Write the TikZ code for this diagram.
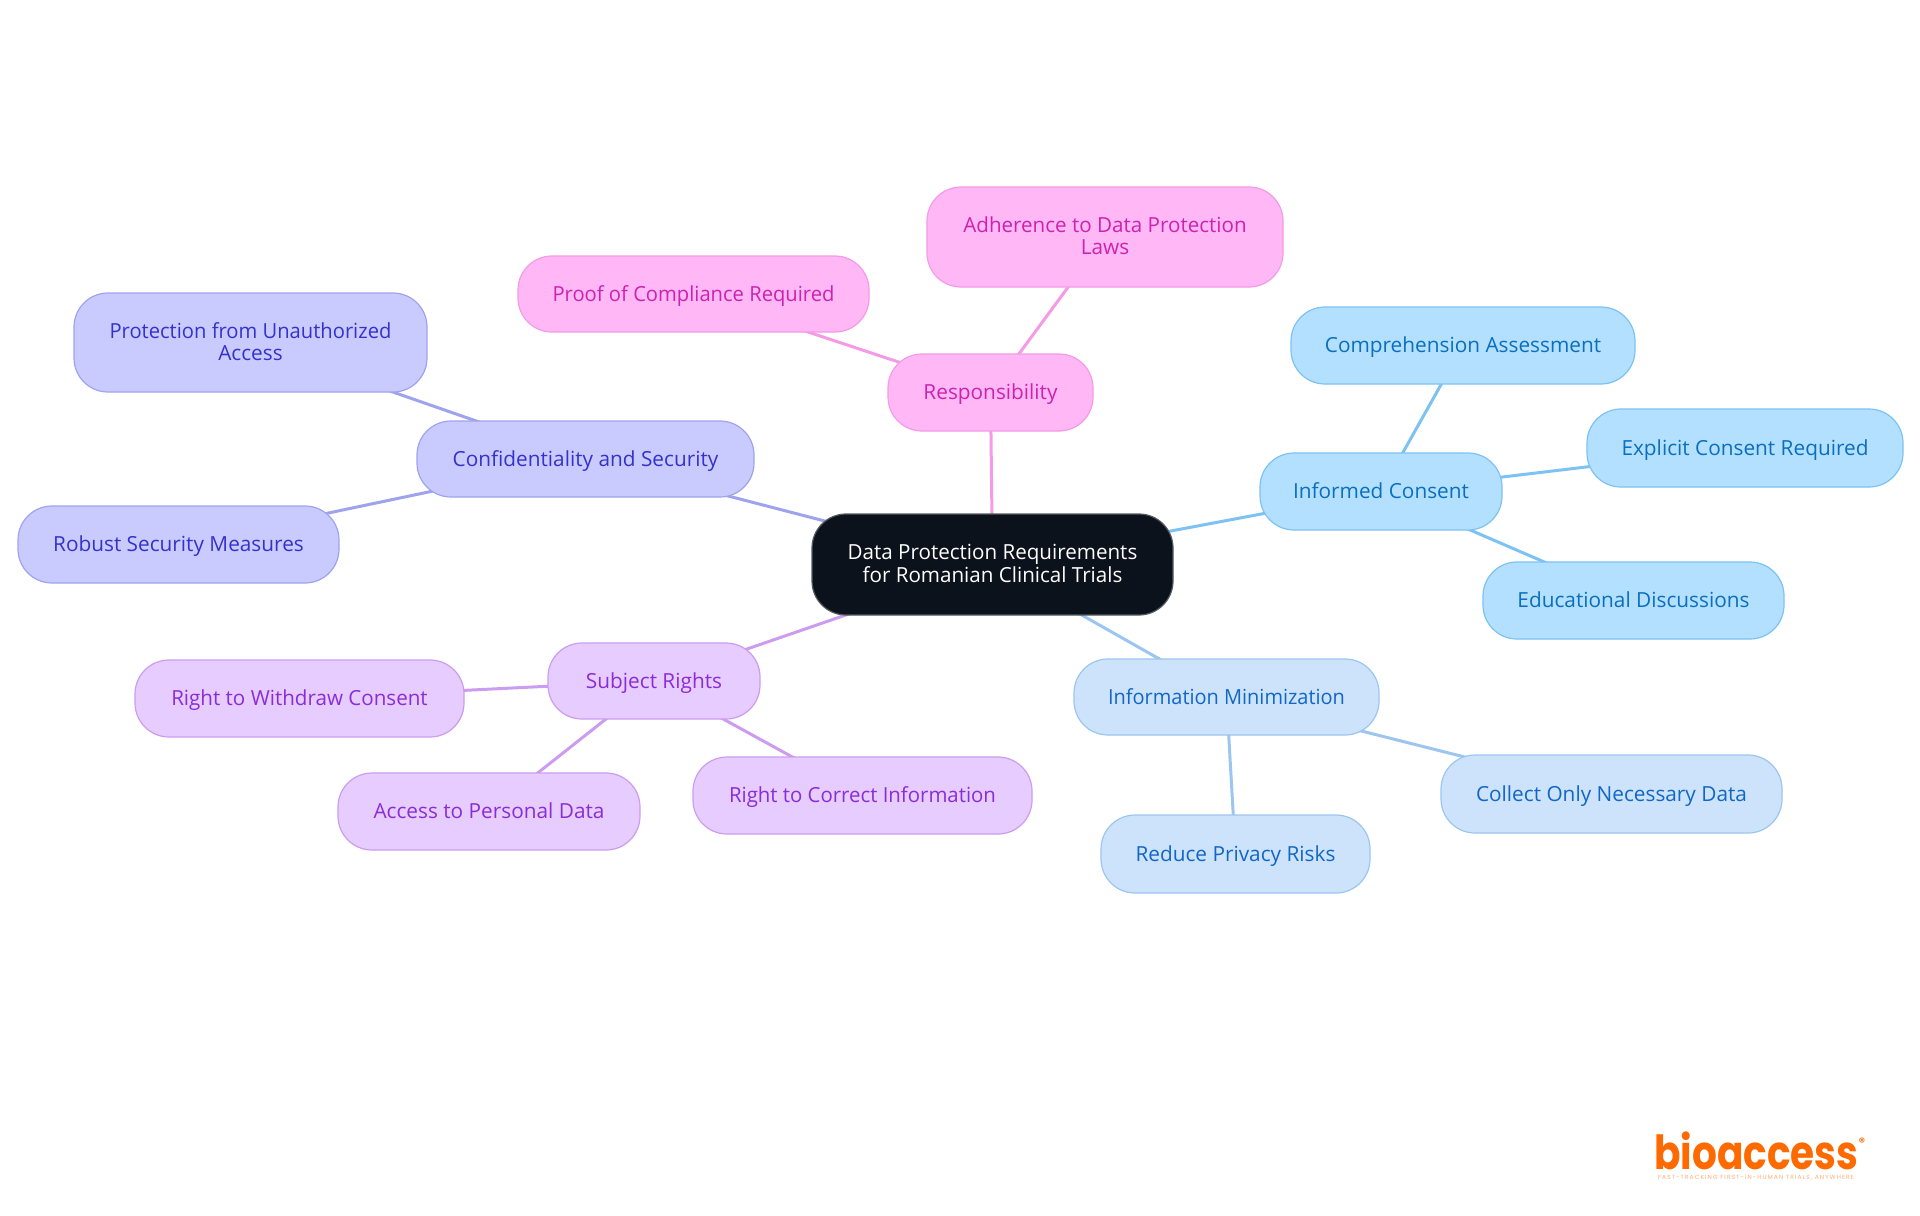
\documentclass[tikz,border=0pt]{standalone}
\usepackage{graphicx}
\usepackage{fontspec}
\setmainfont{Open Sans}
\newfontfamily\logofont{Poppins}
\newfontfamily\tagfont[LetterSpace=18]{Poppins}
\usetikzlibrary{backgrounds}
\definecolor{blueF}{HTML}{B3E0FF}\definecolor{blueD}{HTML}{7CC2F2}\definecolor{blueT}{HTML}{0A6FBF}
\definecolor{skyF}{HTML}{CCE3FB}\definecolor{skyD}{HTML}{9CC5F0}\definecolor{skyT}{HTML}{1267C6}
\definecolor{indF}{HTML}{C9CBFF}\definecolor{indD}{HTML}{9FA3EE}\definecolor{indT}{HTML}{3532CC}
\definecolor{purF}{HTML}{E6CCFF}\definecolor{purD}{HTML}{CC9CF0}\definecolor{purT}{HTML}{8A2DD8}
\definecolor{pinF}{HTML}{FFB8F5}\definecolor{pinD}{HTML}{F59AE6}\definecolor{pinT}{HTML}{CC22B0}
\definecolor{rootF}{HTML}{0C121B}\definecolor{rootD}{HTML}{555A62}
\definecolor{logoC}{HTML}{FF6A00}
\newcommand{\lastfix}{\rule[-1.2pt]{0pt}{1.2pt}}
\newcommand{\narrow}[2]{\scalebox{#1}[1]{#2}}
\tikzset{
  box/.style={rectangle,rounded corners=17pt,line width=0.6pt,inner sep=0pt,align=center,
    font=\fontsize{10.4}{11.2}\selectfont},
  one/.style={text height=9.5pt,text depth=2.5pt},
  bluebox/.style={box,fill=blueF,draw=blueD,text=blueT},
  skybox/.style={box,fill=skyF,draw=skyD,text=skyT},
  indbox/.style={box,fill=indF,draw=indD,text=indT},
  purbox/.style={box,fill=purF,draw=purD,text=purT},
  pinbox/.style={box,fill=pinF,draw=pinD,text=pinT},
  rootbox/.style={box,fill=rootF,draw=rootD,text=white},
  link/.style={line width=1.5pt},
  bluelink/.style={link,draw=blueD},
  skylink/.style={link,draw=skyD},
  indlink/.style={link,draw=indD},
  purlink/.style={link,draw=purD},
  pinlink/.style={link,draw=pinD},
}
\newcommand{\mm}[7]{%
  \pgfmathsetmacro{\cxx}{(#3+#5)/2}\pgfmathsetmacro{\cyy}{(#4+#6)/2}%
  \pgfmathsetmacro{\www}{(#5-#3)*0.5}\pgfmathsetmacro{\hhh}{(#6-#4)*0.5}%
  \node[#2,minimum width=\www pt,minimum height=\hhh pt] (#1) at (\cxx,\cyy) {#7};}
\begin{document}
\begin{tikzpicture}[x=0.5pt,y=-0.5pt]
\useasboundingbox (0,0) rectangle (1920,1215);
\mm{root}{rootbox}{812}{514}{1173}{615}{\narrow{0.99}{Data Protection Requirements}\\\narrow{0.99}{for Romanian Clinical Trials}\lastfix}
\mm{resp}{pinbox,one}{888}{354}{1093}{431}{Responsibility}
\mm{adh}{pinbox}{927}{187}{1283}{287}{\narrow{0.99}{Adherence to Data Protection}\\Laws\lastfix}
\mm{proof}{pinbox,one}{518}{256}{869}{332}{\narrow{0.97}{Proof of Compliance Required}}
\mm{conf}{indbox,one}{417}{421}{754}{497}{Confidentiality and Security}
\mm{prot}{indbox}{74}{293}{427}{392}{\narrow{0.97}{Protection from Unauthorized}\\Access\lastfix}
\mm{rob}{indbox,one}{18}{506}{339}{583}{Robust Security Measures}
\mm{subj}{purbox,one}{548}{643}{760}{719}{Subject Rights}
\mm{with}{purbox,one}{135}{660}{464}{737}{\narrow{0.99}{Right to Withdraw Consent}}
\mm{acc}{purbox,one}{338}{773}{640}{850}{Access to Personal Data}
\mm{corr}{purbox,one}{693}{757}{1032}{834}{\narrow{0.98}{Right to Correct Information}}
\mm{info}{skybox,one}{1074}{659}{1379}{735}{\narrow{0.96}{Information Minimization}}
\mm{coll}{skybox,one}{1441}{755}{1782}{833}{Collect Only Necessary Data}
\mm{red}{skybox,one}{1101}{815}{1370}{893}{Reduce Privacy Risks}
\mm{cons}{bluebox,one}{1260}{453}{1502}{530}{Informed Consent}
\mm{comp}{bluebox,one}{1291}{307}{1635}{384}{Comprehension Assessment}
\mm{expl}{bluebox,one}{1587}{409}{1903}{487}{Explicit Consent Required}
\mm{edu}{bluebox,one}{1483}{562}{1784}{639}{Educational Discussions}
\begin{scope}[on background layer]
\draw[pinlink] (root.center) -- (resp.center);
\draw[pinlink] (resp.center) -- (adh.center);
\draw[pinlink] (resp.center) -- (proof.center);
\draw[indlink] (root.center) -- (conf.center);
\draw[indlink] (conf.center) -- (prot.center);
\draw[indlink] (conf.center) -- (rob.center);
\draw[purlink] (root.center) -- (subj.center);
\draw[purlink] (subj.center) -- (with.center);
\draw[purlink] (subj.center) -- (acc.center);
\draw[purlink] (subj.center) -- (corr.center);
\draw[skylink] (root.center) -- (info.center);
\draw[skylink] (info.center) -- (coll.center);
\draw[skylink] (info.center) -- (red.center);
\draw[bluelink] (root.center) -- (cons.center);
\draw[bluelink] (cons.center) -- (comp.center);
\draw[bluelink] (cons.center) -- (expl.center);
\draw[bluelink] (cons.center) -- (edu.center);
\end{scope}
\node[anchor=base west,inner sep=0pt,text=logoC,xscale=0.83,transform shape,font=\logofont\bfseries\fontsize{23.5}{25}\selectfont] (logo) at (1654,1169) {bioaccess};
\node[anchor=center,inner sep=0pt,text=logoC,font=\logofont\bfseries\fontsize{6}{6}\selectfont] (reg) at (1862,1142) {®};
\node[anchor=center,inner sep=0pt,text=logoC!55,font=\tagfont\fontsize{3}{3.2}\selectfont] (tag) at (1756,1178) {FAST-TRACKING FIRST-IN-HUMAN TRIALS, ANYWHERE};
\end{tikzpicture}
\end{document}
